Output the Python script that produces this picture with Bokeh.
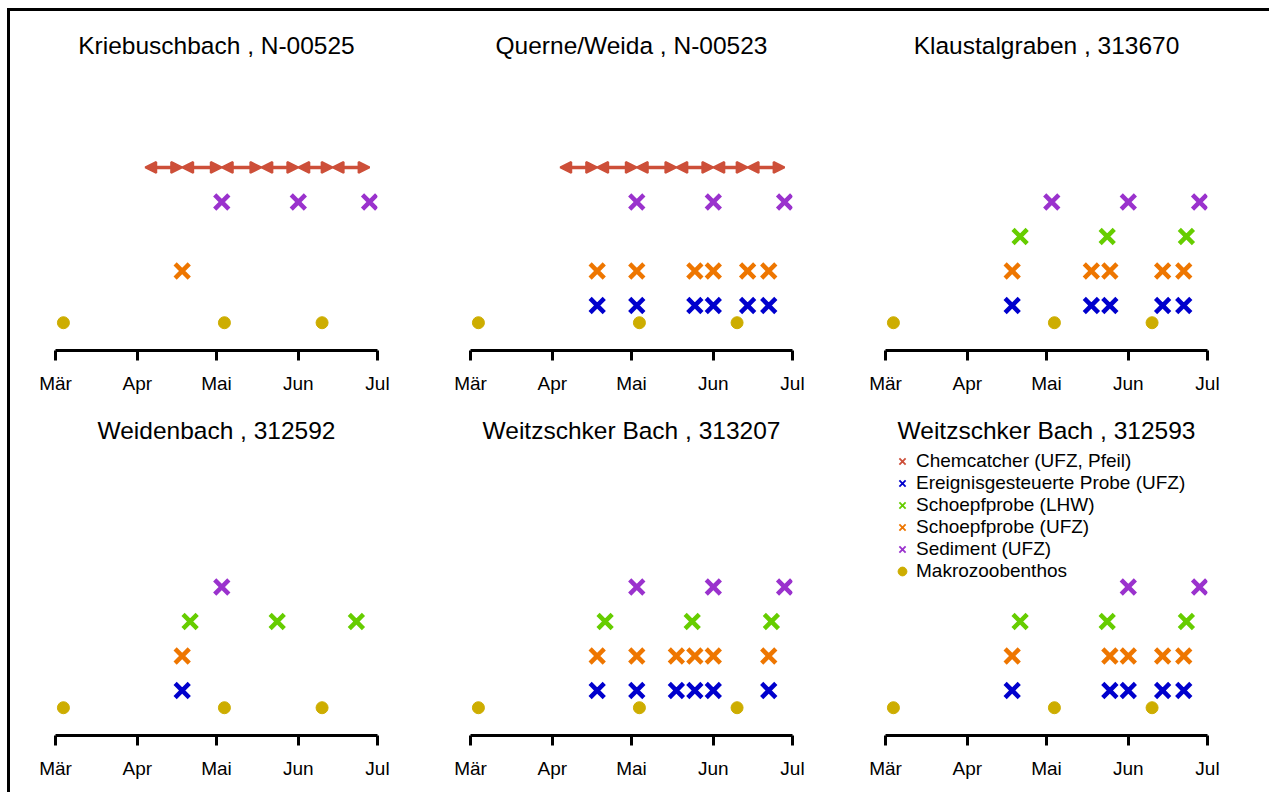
import pandas as pd
from bokeh.plotting import figure
from bokeh.layouts import gridplot
from bokeh.models import (ColumnDataSource, Range1d, FixedTicker, Arrow,
                          NormalHead, Legend, LegendItem)
from bokeh.embed import file_html
from bokeh.resources import INLINE

# ---------------- data ----------------
panel_names = [
    "Kriebuschbach , N-00525",
    "Querne/Weida , N-00523",
    "Klaustalgraben , 313670",
    "Weidenbach , 312592",
    "Weitzschker Bach , 313207",
    "Weitzschker Bach , 312593",
]

tick_dates = ["2019-03-01", "2019-04-01", "2019-05-01", "2019-06-01", "2019-07-01"]
tick_labels = ["Mär", "Apr", "Mai", "Jun", "Jul"]

series_names = [
    "Chemcatcher (UFZ, Pfeil)",
    "Ereignisgesteuerte Probe (UFZ)",
    "Schoepfprobe (LHW)",
    "Schoepfprobe (UFZ)",
    "Sediment (UFZ)",
    "Makrozoobenthos",
]
series_levels = [5, 1, 3, 2, 4, 0.5]
series_colors = ["#CD4F39", "#0000CD", "#66CD00", "#EE7600", "#9A32CD", "#CDAD00"]

# Chemcatcher exposure periods (arrow end points), one list per panel
chemcatcher = [
    ["2019-04-04", "2019-04-18", "2019-05-03", "2019-05-18", "2019-06-01", "2019-06-14", "2019-06-28"],
    ["2019-04-04", "2019-04-18", "2019-05-03", "2019-05-18", "2019-06-01", "2019-06-14", "2019-06-28"],
    [], [], [], [],
]
ereignis = [
    [],
    ["2019-04-18", "2019-05-03", "2019-05-25", "2019-06-01", "2019-06-14", "2019-06-22"],
    ["2019-04-18", "2019-05-18", "2019-05-25", "2019-06-14", "2019-06-22"],
    ["2019-04-18"],
    ["2019-04-18", "2019-05-03", "2019-05-18", "2019-05-25", "2019-06-01", "2019-06-22"],
    ["2019-04-18", "2019-05-25", "2019-06-01", "2019-06-14", "2019-06-22"],
]
schoepf_lhw = [
    [],
    [],
    ["2019-04-21", "2019-05-24", "2019-06-23"],
    ["2019-04-21", "2019-05-24", "2019-06-23"],
    ["2019-04-21", "2019-05-24", "2019-06-23"],
    ["2019-04-21", "2019-05-24", "2019-06-23"],
]
schoepf_ufz = [
    ["2019-04-18"],
    ["2019-04-18", "2019-05-03", "2019-05-25", "2019-06-01", "2019-06-14", "2019-06-22"],
    ["2019-04-18", "2019-05-18", "2019-05-25", "2019-06-14", "2019-06-22"],
    ["2019-04-18"],
    ["2019-04-18", "2019-05-03", "2019-05-18", "2019-05-25", "2019-06-01", "2019-06-22"],
    ["2019-04-18", "2019-05-25", "2019-06-01", "2019-06-14", "2019-06-22"],
]
sediment = [
    ["2019-05-03", "2019-06-01", "2019-06-28"],
    ["2019-05-03", "2019-06-01", "2019-06-28"],
    ["2019-05-03", "2019-06-01", "2019-06-28"],
    ["2019-05-03"],
    ["2019-05-03", "2019-06-01", "2019-06-28"],
    ["2019-06-01", "2019-06-28"],
]
makrozoobenthos = [
    ["2019-03-04", "2019-05-04", "2019-06-10"],
    ["2019-03-04", "2019-05-04", "2019-06-10"],
    ["2019-03-04", "2019-05-04", "2019-06-10"],
    ["2019-03-04", "2019-05-04", "2019-06-10"],
    ["2019-03-04", "2019-05-04", "2019-06-10"],
    ["2019-03-04", "2019-05-04", "2019-06-10"],
]
point_series = [ereignis, schoepf_lhw, schoepf_ufz, sediment]  # series index 1..4

# ---------------- layout / style ----------------
FONT = "Liberation Sans"
W, H = 415, 385
LEFT, RIGHT, TOP, BOTTOM = 45, 48, 48, 46
PX_PER_UNIT = 34.5
Y_BOTTOM = -0.305
y_top = Y_BOTTOM + (H - TOP - BOTTOM) / PX_PER_UNIT


def ms(d):
    return pd.Timestamp(d).value / 1e6


figs = []
for i, name in enumerate(panel_names):
    p = figure(width=W, height=H, x_axis_type="datetime", y_axis_location=None,
               toolbar_location=None, output_backend="svg",
               x_range=Range1d(ms(tick_dates[0]), ms(tick_dates[-1])),
               y_range=Range1d(Y_BOTTOM, y_top),
               min_border_left=LEFT, min_border_right=RIGHT,
               min_border_top=TOP, min_border_bottom=BOTTOM)
    p.title.text = name
    p.title.align = "center"
    p.title.text_font = FONT
    p.title.text_font_size = "24.5px"
    p.title.text_font_style = "normal"
    p.title.text_color = "black"
    p.title.standoff = 2
    p.outline_line_color = None
    p.xgrid.visible = False
    p.ygrid.visible = False

    ax = p.xaxis[0]
    ax.ticker = FixedTicker(ticks=[ms(d) for d in tick_dates])
    ax.major_label_overrides = {ms(d): lab for d, lab in zip(tick_dates, tick_labels)}
    ax.axis_line_width = 3
    ax.axis_line_color = "black"
    ax.major_tick_line_width = 3
    ax.major_tick_line_color = "black"
    ax.major_tick_in = 0
    ax.major_tick_out = 10
    ax.minor_tick_in = 0
    ax.minor_tick_out = 0
    ax.major_label_standoff = 12
    ax.major_label_text_font = FONT
    ax.major_label_text_font_size = "19px"
    ax.major_label_text_color = "black"

    # chemcatcher arrows
    chem = chemcatcher[i]
    if len(chem) > 1:
        c = series_colors[0]
        src = ColumnDataSource(dict(x0=pd.to_datetime(chem[:-1]), x1=pd.to_datetime(chem[1:]),
                                    y=[series_levels[0]] * (len(chem) - 1)))
        p.add_layout(Arrow(start=NormalHead(size=11, fill_color=c, line_color=c, line_width=2),
                           end=NormalHead(size=11, fill_color=c, line_color=c, line_width=2),
                           x_start="x0", y_start="y", x_end="x1", y_end="y", source=src,
                           line_color=c, line_width=3.5))

    # x-marked sample series
    for k, ser in enumerate(point_series, start=1):
        dates = ser[i]
        if dates:
            p.scatter(x=pd.to_datetime(dates), y=[series_levels[k]] * len(dates),
                      marker="x", size=20, line_width=4.5, line_color=series_colors[k])

    # macrozoobenthos dots
    dates = makrozoobenthos[i]
    p.scatter(x=pd.to_datetime(dates), y=[series_levels[5]] * len(dates),
              marker="circle", size=12, fill_color=series_colors[5], line_color=series_colors[5])

    if i == len(panel_names) - 1:
        items = []
        nan = float("nan")
        for k, lab in enumerate(series_names):
            if k == 5:
                r = p.scatter(x=[nan], y=[nan], marker="circle", size=11,
                              fill_color=series_colors[k], line_color=series_colors[k])
            else:
                r = p.scatter(x=[nan], y=[nan], marker="x", size=20, line_width=1.8,
                              line_color=series_colors[k])
            items.append(LegendItem(label=lab, renderers=[r]))
        leg = Legend(items=items, location="top_left", margin=6, padding=12,
                     spacing=0, glyph_width=22, glyph_height=22, label_height=20,
                     label_standoff=3, label_text_font=FONT, label_text_font_size="19px",
                     label_text_color="black", border_line_color=None,
                     background_fill_alpha=0)
        p.add_layout(leg)
    figs.append(p)

grid = gridplot(figs, ncols=3, toolbar_location=None)
grid.styles = {"border-top": "3px solid black", "border-left": "3px solid black",
               "margin-top": "8px", "margin-left": "7px",
               "padding-right": "14px", "padding-bottom": "11px"}

open("out.html", "w").write(file_html(grid, INLINE))
